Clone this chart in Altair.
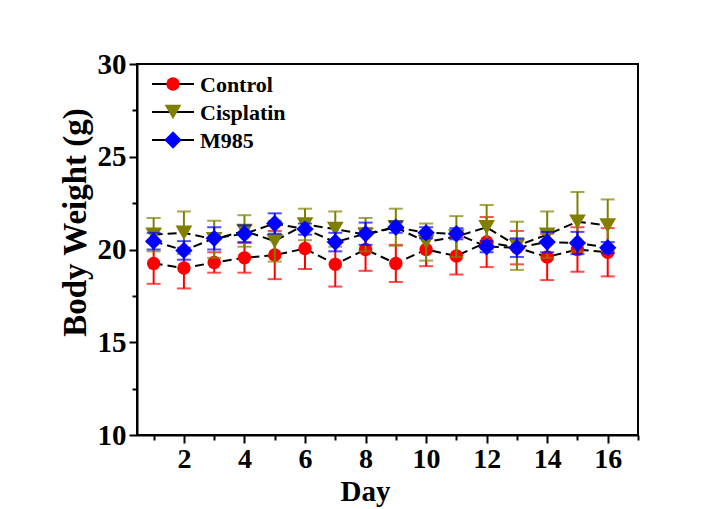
import altair as alt
import pandas as pd

days = list(range(1, 17))
series = ["Control", "Cisplatin", "M985"]
colors = ["#FF0000", "#808000", "#0000FF"]
shapes = ["circle", "triangle-down", "diamond"]
sizes = [180, 280, 300]

control_mean = [19.25, 19.0, 19.3, 19.55, 19.7, 20.05, 19.2, 20.0, 19.25, 20.0, 19.65, 20.4, 20.1, 19.6, 20.0, 19.85]
control_sd = [1.1, 1.1, 0.55, 0.8, 1.3, 1.1, 1.2, 1.15, 1.0, 0.9, 1.0, 1.35, 0.9, 1.25, 1.2, 1.3]
cis_mean = [20.8, 20.9, 20.55, 21.0, 20.45, 21.35, 21.1, 20.8, 21.2, 20.4, 20.7, 21.2, 20.2, 20.8, 21.5, 21.3]
cis_sd = [0.9, 1.15, 1.0, 0.85, 1.1, 0.85, 0.95, 0.9, 1.0, 1.0, 1.1, 1.2, 1.3, 1.25, 1.6, 1.4]
m985_mean = [20.45, 19.95, 20.6, 20.85, 21.4, 21.1, 20.4, 20.85, 21.2, 20.9, 20.85, 20.15, 20.1, 20.4, 20.35, 20.1]
m985_sd = [0.45, 0.5, 0.6, 0.45, 0.55, 0.3, 0.5, 0.6, 0.3, 0.3, 0.3, 0.3, 0.5, 0.55, 0.6, 0.3]

means = [control_mean, cis_mean, m985_mean]
sds = [control_sd, cis_sd, m985_sd]

x_major = [2, 4, 6, 8, 10, 12, 14, 16]
x_minor = [1, 3, 5, 7, 9, 11, 13, 15, 17]
y_major = [10, 15, 20, 25, 30]
y_minor = [12.5, 17.5, 22.5, 27.5]

FONT = "Liberation Serif"
W, H = 501, 371

rows = []
for s, m, sd in zip(series, means, sds):
    for d, v, e in zip(days, m, sd):
        rows.append({"series": s, "day": d, "mean": v, "lo": v - e, "hi": v + e})
df = pd.DataFrame(rows)

xs = alt.Scale(domain=[0.45, 17], nice=False, zero=False)
ys = alt.Scale(domain=[10, 30], nice=False, zero=False)

x_axis = alt.Axis(
    values=x_major, title="Day", format="d", orient="bottom",
    tickSize=8, labelOverlap=False, labelFlush=False,
    labelFont=FONT, labelFontSize=28, labelFontWeight="bold", labelColor="black",
    titleFont=FONT, titleFontSize=29, titleFontWeight="bold", titleColor="black",
    titleX=228, titleY=65, titleBaseline="alphabetic", titleAlign="center",
    labelPadding=2, domainColor="black", domainWidth=2, tickColor="black", tickWidth=2,
    grid=False,
)
y_axis = alt.Axis(
    values=y_major, title="Body Weight (g)", format="d", orient="left",
    tickSize=8, labelOverlap=False, labelFlush=False,
    labelFont=FONT, labelFontSize=29, labelFontWeight="bold", labelColor="black",
    titleFont=FONT, titleFontSize=33, titleFontWeight="bold", titleColor="black",
    titleX=-62, titleY=158, titleAngle=-90, titleBaseline="middle", titleAlign="center",
    labelPadding=3, domainColor="black", domainWidth=2, tickColor="black", tickWidth=2,
    grid=False,
)
x_minor_axis = alt.Axis(values=x_minor, orient="bottom", title=None, labels=False, domain=False,
                        tickSize=5, tickWidth=2, tickColor="black", grid=False)
y_minor_axis = alt.Axis(values=y_minor, orient="left", title=None, labels=False, domain=False,
                        tickSize=5, tickWidth=2, tickColor="black", grid=False)

base = alt.Chart(df)

layers = []
layers.append(
    base.mark_line(color="black", strokeWidth=2, strokeDash=[9, 5]).encode(
        x=alt.X("day:Q", scale=xs, axis=x_axis),
        y=alt.Y("mean:Q", scale=ys, axis=y_axis),
        detail="series:N",
    )
)
for i, s in enumerate(series):
    sub = alt.Chart(df[df["series"] == s])
    col = colors[i]
    layers.append(sub.mark_rule(color=col, strokeWidth=2).encode(
        x=alt.X("day:Q", scale=xs), y=alt.Y("lo:Q", scale=ys), y2="hi:Q"))
    layers.append(sub.mark_tick(color=col, orient="horizontal", size=14, thickness=2).encode(
        x=alt.X("day:Q", scale=xs), y=alt.Y("lo:Q", scale=ys)))
    layers.append(sub.mark_tick(color=col, orient="horizontal", size=14, thickness=2).encode(
        x=alt.X("day:Q", scale=xs), y=alt.Y("hi:Q", scale=ys)))
    layers.append(sub.mark_point(filled=True, opacity=1, color=col, shape=shapes[i], size=sizes[i]).encode(
        x=alt.X("day:Q", scale=xs), y=alt.Y("mean:Q", scale=ys)))

# legend
leg_y = [20, 48, 76]
for i, s in enumerate(series):
    ldf = alt.Chart(pd.DataFrame({"label": [s]}))
    layers.append(ldf.mark_rule(color="black", strokeWidth=2).encode(
        x=alt.value(15), x2=alt.value(57), y=alt.value(leg_y[i])))
    layers.append(ldf.mark_point(filled=True, opacity=1, color=colors[i], shape=shapes[i], size=sizes[i]).encode(
        x=alt.value(36), y=alt.value(leg_y[i])))
    layers.append(ldf.mark_text(align="left", baseline="middle", font=FONT, fontSize=22,
                                fontWeight="bold", color="black").encode(
        x=alt.value(63), y=alt.value(leg_y[i] + 1), text="label:N"))

main = alt.layer(*layers)

# invisible layer carrying the minor tick axes
minor = alt.Chart(df).mark_point(opacity=0, size=1).encode(
    x=alt.X("day:Q", scale=xs, axis=x_minor_axis),
    y=alt.Y("mean:Q", scale=ys, axis=y_minor_axis),
)

chart = alt.layer(main, minor).resolve_axis(x="independent", y="independent").properties(
    width=W, height=H,
    autosize=alt.AutoSizeParams(type="none"),
    padding={"left": 137, "top": 64, "right": 88, "bottom": 74},
    background="white",
).configure_view(stroke="black", strokeWidth=2)

chart.save("out.html", embed_options={"renderer": "svg", "actions": False})
